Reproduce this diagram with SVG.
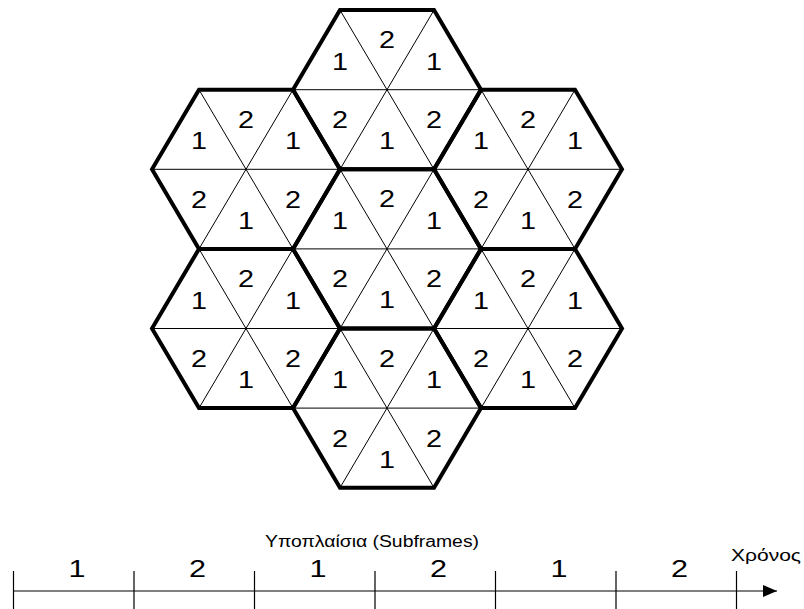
<svg xmlns="http://www.w3.org/2000/svg" width="804" height="609" viewBox="0 0 804 609">
<style>
.bg{fill:#fff}
.hex{fill:none;stroke:#000;stroke-width:4;stroke-linejoin:miter}
.div{fill:none;stroke:#000;stroke-width:1}
.d{font-family:"Liberation Sans",Arial,sans-serif;font-size:23px;fill:#000;text-anchor:middle}
.t{font-family:"Liberation Sans",Arial,sans-serif;font-size:24px;fill:#000;text-anchor:middle}
.lbl{font-family:"Liberation Sans",Arial,sans-serif;font-size:16px;fill:#000;text-anchor:middle}
.axis{fill:none;stroke:#000;stroke-width:1.2}
</style>
<defs>
<marker id="arr" viewBox="0 0 14 12" refX="14" refY="6" markerWidth="14" markerHeight="12" markerUnits="userSpaceOnUse" orient="auto">
<path d="M0 0L14 6L0 12Z" fill="#000"/>
</marker>
</defs>
<rect class="bg" x="0" y="0" width="804" height="609"/>

<g id="cell-top" transform="translate(387,89.7)">
<path class="div" d="M-94 0H94M-47 -79.6L47 79.6M47 -79.6L-47 79.6"/>
<polygon class="hex" points="-94,0 -47,-79.6 47,-79.6 94,0 47,79.6 -47,79.6"/>
<text class="d" x="0" y="-41.5" textLength="16" lengthAdjust="spacingAndGlyphs">2</text>
<text class="d" x="-47" y="-20" textLength="16" lengthAdjust="spacingAndGlyphs">1</text>
<text class="d" x="47" y="-20" textLength="16" lengthAdjust="spacingAndGlyphs">1</text>
<text class="d" x="-47" y="38.5" textLength="16" lengthAdjust="spacingAndGlyphs">2</text>
<text class="d" x="47" y="38.5" textLength="16" lengthAdjust="spacingAndGlyphs">2</text>
<text class="d" x="0" y="59.5" textLength="16" lengthAdjust="spacingAndGlyphs">1</text>
</g>

<g id="cell-upper-left" transform="translate(246,169.3)">
<path class="div" d="M-94 0H94M-47 -79.6L47 79.6M47 -79.6L-47 79.6"/>
<polygon class="hex" points="-94,0 -47,-79.6 47,-79.6 94,0 47,79.6 -47,79.6"/>
<text class="d" x="0" y="-41.5" textLength="16" lengthAdjust="spacingAndGlyphs">2</text>
<text class="d" x="-47" y="-20" textLength="16" lengthAdjust="spacingAndGlyphs">1</text>
<text class="d" x="47" y="-20" textLength="16" lengthAdjust="spacingAndGlyphs">1</text>
<text class="d" x="-47" y="38.5" textLength="16" lengthAdjust="spacingAndGlyphs">2</text>
<text class="d" x="47" y="38.5" textLength="16" lengthAdjust="spacingAndGlyphs">2</text>
<text class="d" x="0" y="59.5" textLength="16" lengthAdjust="spacingAndGlyphs">1</text>
</g>

<g id="cell-upper-right" transform="translate(528,169.3)">
<path class="div" d="M-94 0H94M-47 -79.6L47 79.6M47 -79.6L-47 79.6"/>
<polygon class="hex" points="-94,0 -47,-79.6 47,-79.6 94,0 47,79.6 -47,79.6"/>
<text class="d" x="0" y="-41.5" textLength="16" lengthAdjust="spacingAndGlyphs">2</text>
<text class="d" x="-47" y="-20" textLength="16" lengthAdjust="spacingAndGlyphs">1</text>
<text class="d" x="47" y="-20" textLength="16" lengthAdjust="spacingAndGlyphs">1</text>
<text class="d" x="-47" y="38.5" textLength="16" lengthAdjust="spacingAndGlyphs">2</text>
<text class="d" x="47" y="38.5" textLength="16" lengthAdjust="spacingAndGlyphs">2</text>
<text class="d" x="0" y="59.5" textLength="16" lengthAdjust="spacingAndGlyphs">1</text>
</g>

<g id="cell-middle" transform="translate(387,248.9)">
<path class="div" d="M-94 0H94M-47 -79.6L47 79.6M47 -79.6L-47 79.6"/>
<polygon class="hex" points="-94,0 -47,-79.6 47,-79.6 94,0 47,79.6 -47,79.6"/>
<text class="d" x="0" y="-41.5" textLength="16" lengthAdjust="spacingAndGlyphs">2</text>
<text class="d" x="-47" y="-20" textLength="16" lengthAdjust="spacingAndGlyphs">1</text>
<text class="d" x="47" y="-20" textLength="16" lengthAdjust="spacingAndGlyphs">1</text>
<text class="d" x="-47" y="38.5" textLength="16" lengthAdjust="spacingAndGlyphs">2</text>
<text class="d" x="47" y="38.5" textLength="16" lengthAdjust="spacingAndGlyphs">2</text>
<text class="d" x="0" y="59.5" textLength="16" lengthAdjust="spacingAndGlyphs">1</text>
</g>

<g id="cell-lower-left" transform="translate(246,328.5)">
<path class="div" d="M-94 0H94M-47 -79.6L47 79.6M47 -79.6L-47 79.6"/>
<polygon class="hex" points="-94,0 -47,-79.6 47,-79.6 94,0 47,79.6 -47,79.6"/>
<text class="d" x="0" y="-41.5" textLength="16" lengthAdjust="spacingAndGlyphs">2</text>
<text class="d" x="-47" y="-20" textLength="16" lengthAdjust="spacingAndGlyphs">1</text>
<text class="d" x="47" y="-20" textLength="16" lengthAdjust="spacingAndGlyphs">1</text>
<text class="d" x="-47" y="38.5" textLength="16" lengthAdjust="spacingAndGlyphs">2</text>
<text class="d" x="47" y="38.5" textLength="16" lengthAdjust="spacingAndGlyphs">2</text>
<text class="d" x="0" y="59.5" textLength="16" lengthAdjust="spacingAndGlyphs">1</text>
</g>

<g id="cell-lower-right" transform="translate(528,328.5)">
<path class="div" d="M-94 0H94M-47 -79.6L47 79.6M47 -79.6L-47 79.6"/>
<polygon class="hex" points="-94,0 -47,-79.6 47,-79.6 94,0 47,79.6 -47,79.6"/>
<text class="d" x="0" y="-41.5" textLength="16" lengthAdjust="spacingAndGlyphs">2</text>
<text class="d" x="-47" y="-20" textLength="16" lengthAdjust="spacingAndGlyphs">1</text>
<text class="d" x="47" y="-20" textLength="16" lengthAdjust="spacingAndGlyphs">1</text>
<text class="d" x="-47" y="38.5" textLength="16" lengthAdjust="spacingAndGlyphs">2</text>
<text class="d" x="47" y="38.5" textLength="16" lengthAdjust="spacingAndGlyphs">2</text>
<text class="d" x="0" y="59.5" textLength="16" lengthAdjust="spacingAndGlyphs">1</text>
</g>

<g id="cell-bottom" transform="translate(387,408.1)">
<path class="div" d="M-94 0H94M-47 -79.6L47 79.6M47 -79.6L-47 79.6"/>
<polygon class="hex" points="-94,0 -47,-79.6 47,-79.6 94,0 47,79.6 -47,79.6"/>
<text class="d" x="0" y="-41.5" textLength="16" lengthAdjust="spacingAndGlyphs">2</text>
<text class="d" x="-47" y="-20" textLength="16" lengthAdjust="spacingAndGlyphs">1</text>
<text class="d" x="47" y="-20" textLength="16" lengthAdjust="spacingAndGlyphs">1</text>
<text class="d" x="-47" y="38.5" textLength="16" lengthAdjust="spacingAndGlyphs">2</text>
<text class="d" x="47" y="38.5" textLength="16" lengthAdjust="spacingAndGlyphs">2</text>
<text class="d" x="0" y="59.5" textLength="16" lengthAdjust="spacingAndGlyphs">1</text>
</g>

<g id="timeline">
<path class="axis" d="M13.5 591H777" marker-end="url(#arr)"/>
<path class="axis" d="M13.5 571V609M134 571V609M254.5 571V609M375 571V609M495.5 571V609M616 571V609M736.5 571V609"/>
<text class="lbl" x="372" y="546.5" textLength="214" lengthAdjust="spacingAndGlyphs">Υποπλαίσια (Subframes)</text>
<text class="lbl" x="766" y="561" font-size="17" textLength="70" lengthAdjust="spacingAndGlyphs">Χρόνος</text>
<text class="t" x="77" y="577" textLength="17" lengthAdjust="spacingAndGlyphs">1</text>
<text class="t" x="197.5" y="577" textLength="17" lengthAdjust="spacingAndGlyphs">2</text>
<text class="t" x="318" y="577" textLength="17" lengthAdjust="spacingAndGlyphs">1</text>
<text class="t" x="438.5" y="577" textLength="17" lengthAdjust="spacingAndGlyphs">2</text>
<text class="t" x="559" y="577" textLength="17" lengthAdjust="spacingAndGlyphs">1</text>
<text class="t" x="679.5" y="577" textLength="17" lengthAdjust="spacingAndGlyphs">2</text>
</g>
</svg>
